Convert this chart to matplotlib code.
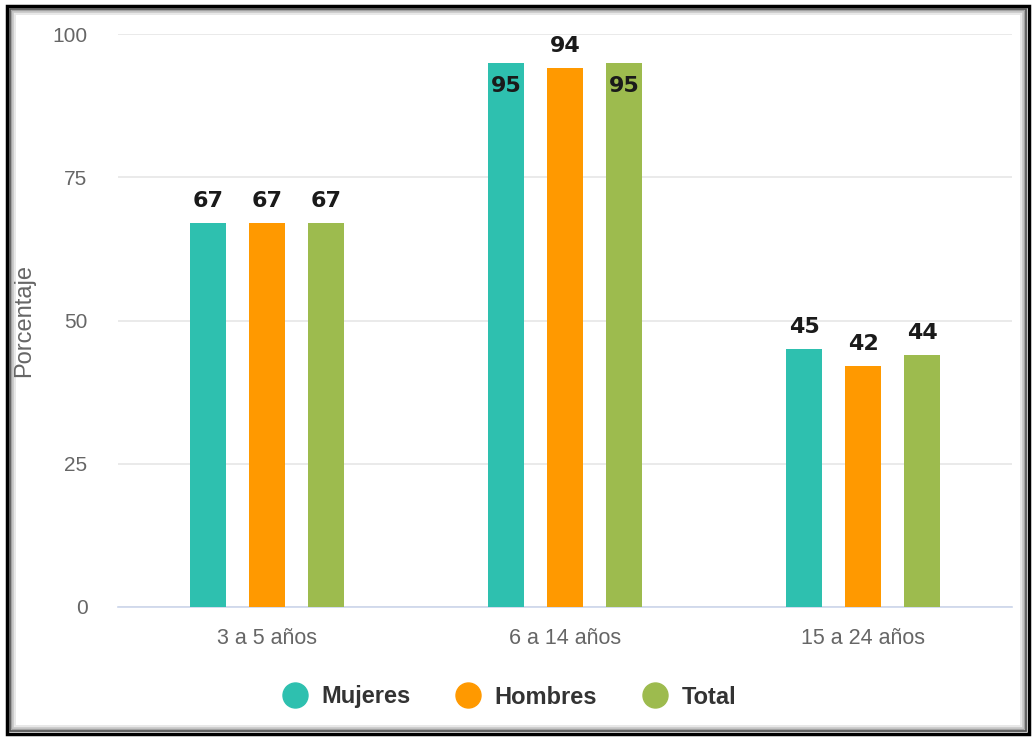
import matplotlib.pyplot as plt
import numpy as np
from matplotlib.patches import Rectangle

# data
categorias = ["3 a 5 años", "6 a 14 años", "15 a 24 años"]
series = ["Mujeres", "Hombres", "Total"]
mujeres = [67, 95, 45]
hombres = [67, 94, 42]
total = [67, 95, 44]
colores = ["#2EC0AF", "#FF9900", "#9DBB4E"]
# labels drawn inside the bar (overlap avoidance in the original)
dentro = {("Mujeres", 1), ("Total", 1)}

fig = plt.figure(figsize=(10.36, 7.38), dpi=100)
ax = fig.add_axes([118 / 1036, 1 - 607 / 738, (1012 - 118) / 1036, (607 - 34) / 738])

x = np.arange(len(categorias))
ancho = 0.121
desp = 0.198
valores = [mujeres, hombres, total]

for k, (nombre, vals, col) in enumerate(zip(series, valores, colores)):
    pos = x + (k - 1) * desp
    ax.bar(pos, vals, width=ancho, color=col, zorder=3)
    for i, v in enumerate(vals):
        if (nombre, i) in dentro:
            off = -17
        else:
            off = 16
        ax.annotate(str(v), (pos[i], v), xytext=(0, off), textcoords="offset points",
                    ha="center", va="center", fontsize=16, fontweight="bold",
                    color="#1a1a1a", family="DejaVu Sans", zorder=4)

ax.set_xlim(-0.5, 2.5)
ax.set_ylim(0, 100)
ax.set_yticks([0, 25, 50, 75, 100])
ax.set_xticks(x)
ax.set_xticklabels(categorias)
ax.yaxis.grid(True, color="#E6E6E6", linewidth=1.2, zorder=0)
ax.set_axisbelow(True)
for s in ["top", "right", "left"]:
    ax.spines[s].set_visible(False)
ax.spines["bottom"].set_color("#CCD6EB")
ax.spines["bottom"].set_linewidth(1.2)
ax.tick_params(axis="y", length=0, pad=22, labelsize=15, labelcolor="#666666")
ax.tick_params(axis="x", length=0, pad=15, labelsize=15.5, labelcolor="#666666")
for t in ax.get_xticklabels() + ax.get_yticklabels():
    t.set_family("Liberation Sans")
ax.set_ylabel("Porcentaje", fontsize=17, color="#666666", family="Liberation Sans")
ax.yaxis.set_label_coords(-0.093, 0.5)

# legend
handles = [plt.Line2D([], [], marker="o", linestyle="", markersize=18, color=c) for c in colores]
leg = fig.legend(handles, series, loc="center", bbox_to_anchor=(0.486, 1 - 697 / 738),
                 ncol=3, frameon=False, handletextpad=0.12, columnspacing=1.45,
                 prop={"family": "Liberation Sans", "weight": "bold", "size": 17})
for t in leg.get_texts():
    t.set_color("#333333")

# frame around the chart
fig.patches.append(Rectangle((7 / 1036, 4 / 738), 1022 / 1036, 728 / 738, transform=fig.transFigure,
                             fill=False, edgecolor="black", linewidth=2.5, zorder=-5))
for i, g in enumerate(["#555555", "#999999", "#C8C8C8", "#E6E6E6"]):
    d = 3 + 1.6 * i
    fig.patches.append(Rectangle(((7 + d) / 1036, (4 + d) / 738), (1022 - 2 * d) / 1036,
                                 (728 - 2 * d) / 738, transform=fig.transFigure,
                                 fill=False, edgecolor=g, linewidth=1.3, zorder=-5))

fig.savefig("out.png", dpi=100)
